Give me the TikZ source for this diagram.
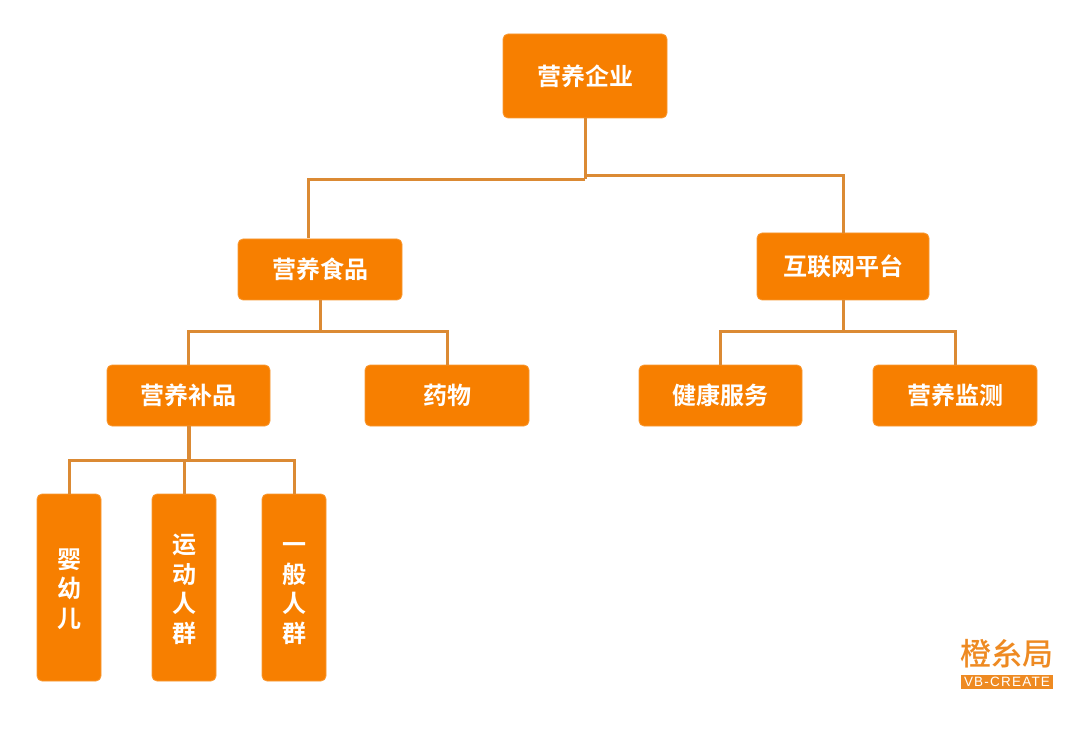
\documentclass[tikz,border=0pt]{standalone}
\usepackage{fontspec}
\newfontfamily\cjk{Noto Sans CJK SC Bold}
\newfontfamily\cjkmed{Noto Sans CJK SC Medium}
\newfontfamily\latin[LetterSpace=9]{Liberation Sans}
\definecolor{boxor}{HTML}{F77F00}
\definecolor{lineor}{HTML}{DB8A34}
\definecolor{logoor}{HTML}{EE8A22}
\newcommand{\firstline}{\rule{0pt}{23pt}}
\tikzset{
  box/.style={fill=boxor,draw=boxor!80!white,line width=0.8pt,rounded corners=5pt,text=white,font=\cjk\fontsize{24}{29.5}\selectfont,align=center,inner sep=0pt,anchor=center},
  link/.style={draw=lineor,line width=3pt},
}
\begin{document}
\begin{tikzpicture}[x=1pt,y=-1pt]
\useasboundingbox (0,0) rectangle (1080,730);
\fill[white] (0,0) rectangle (1080,730);
\coordinate (foodin) at (308,238.5);
\coordinate (jl) at (585,179.5);
\coordinate (jr) at (585,175.5);
\coordinate (j2) at (320,332);
\coordinate (j3) at (720.5,332);
\coordinate (j4) at (188.5,460);
\node[box,minimum width=164pt,minimum height=84pt] (top) at (585,76) {营养企业};
\node[box,minimum width=164pt,minimum height=61pt] (food) at (320,269.5) {营养食品};
\node[box,minimum width=172pt,minimum height=67pt] (net) at (843,266.5) {互联网平台};
\node[box,minimum width=163pt,minimum height=61pt] (supp) at (188.5,395.5) {营养补品};
\node[box,minimum width=164pt,minimum height=61pt] (drug) at (447,395.5) {药物};
\node[box,minimum width=163pt,minimum height=61pt] (health) at (720.5,395.5) {健康服务};
\node[box,minimum width=164pt,minimum height=61pt] (mon) at (955,395.5) {营养监测};
\node[box,minimum width=64pt,minimum height=187pt] (baby) at (69,587.5) {\firstline 婴\\幼\\儿};
\node[box,minimum width=64pt,minimum height=187pt] (sport) at (184,587.5) {\firstline 运\\动\\人\\群};
\node[box,minimum width=64pt,minimum height=187pt] (gen) at (294,587.5) {\firstline 一\\般\\人\\群};
\draw[link] (top.south) -- (jl);
\draw[link] (jl) -| (foodin);
\draw[link] (jr) -| (net.north);
\draw[link] (food.south) -- (j2);
\draw[link] (j2) -| (supp.north);
\draw[link] (j2) -| (drug.north);
\draw[link] (net.south) |- (j3) -- (health.north);
\draw[link] (net.south) |- (mon.north |- j3) -- (mon.north);
\draw[link,line width=4pt] (supp.south) -- (j4);
\draw[link] (j4) -| (baby.north);
\draw[link] (j4) -| (sport.north);
\draw[link] (j4) -| (gen.north);
\node[inner sep=0pt,text=logoor,font=\cjkmed\fontsize{31}{31}\selectfont] (logo) at (1007,654) {橙糸局};
\node[fill=logoor,text=white,inner sep=0pt,minimum width=92pt,minimum height=14pt,font=\latin\fontsize{13.5}{14}\selectfont] (logotag) at (1007,682) {VB-CREATE};
\end{tikzpicture}
\end{document}
